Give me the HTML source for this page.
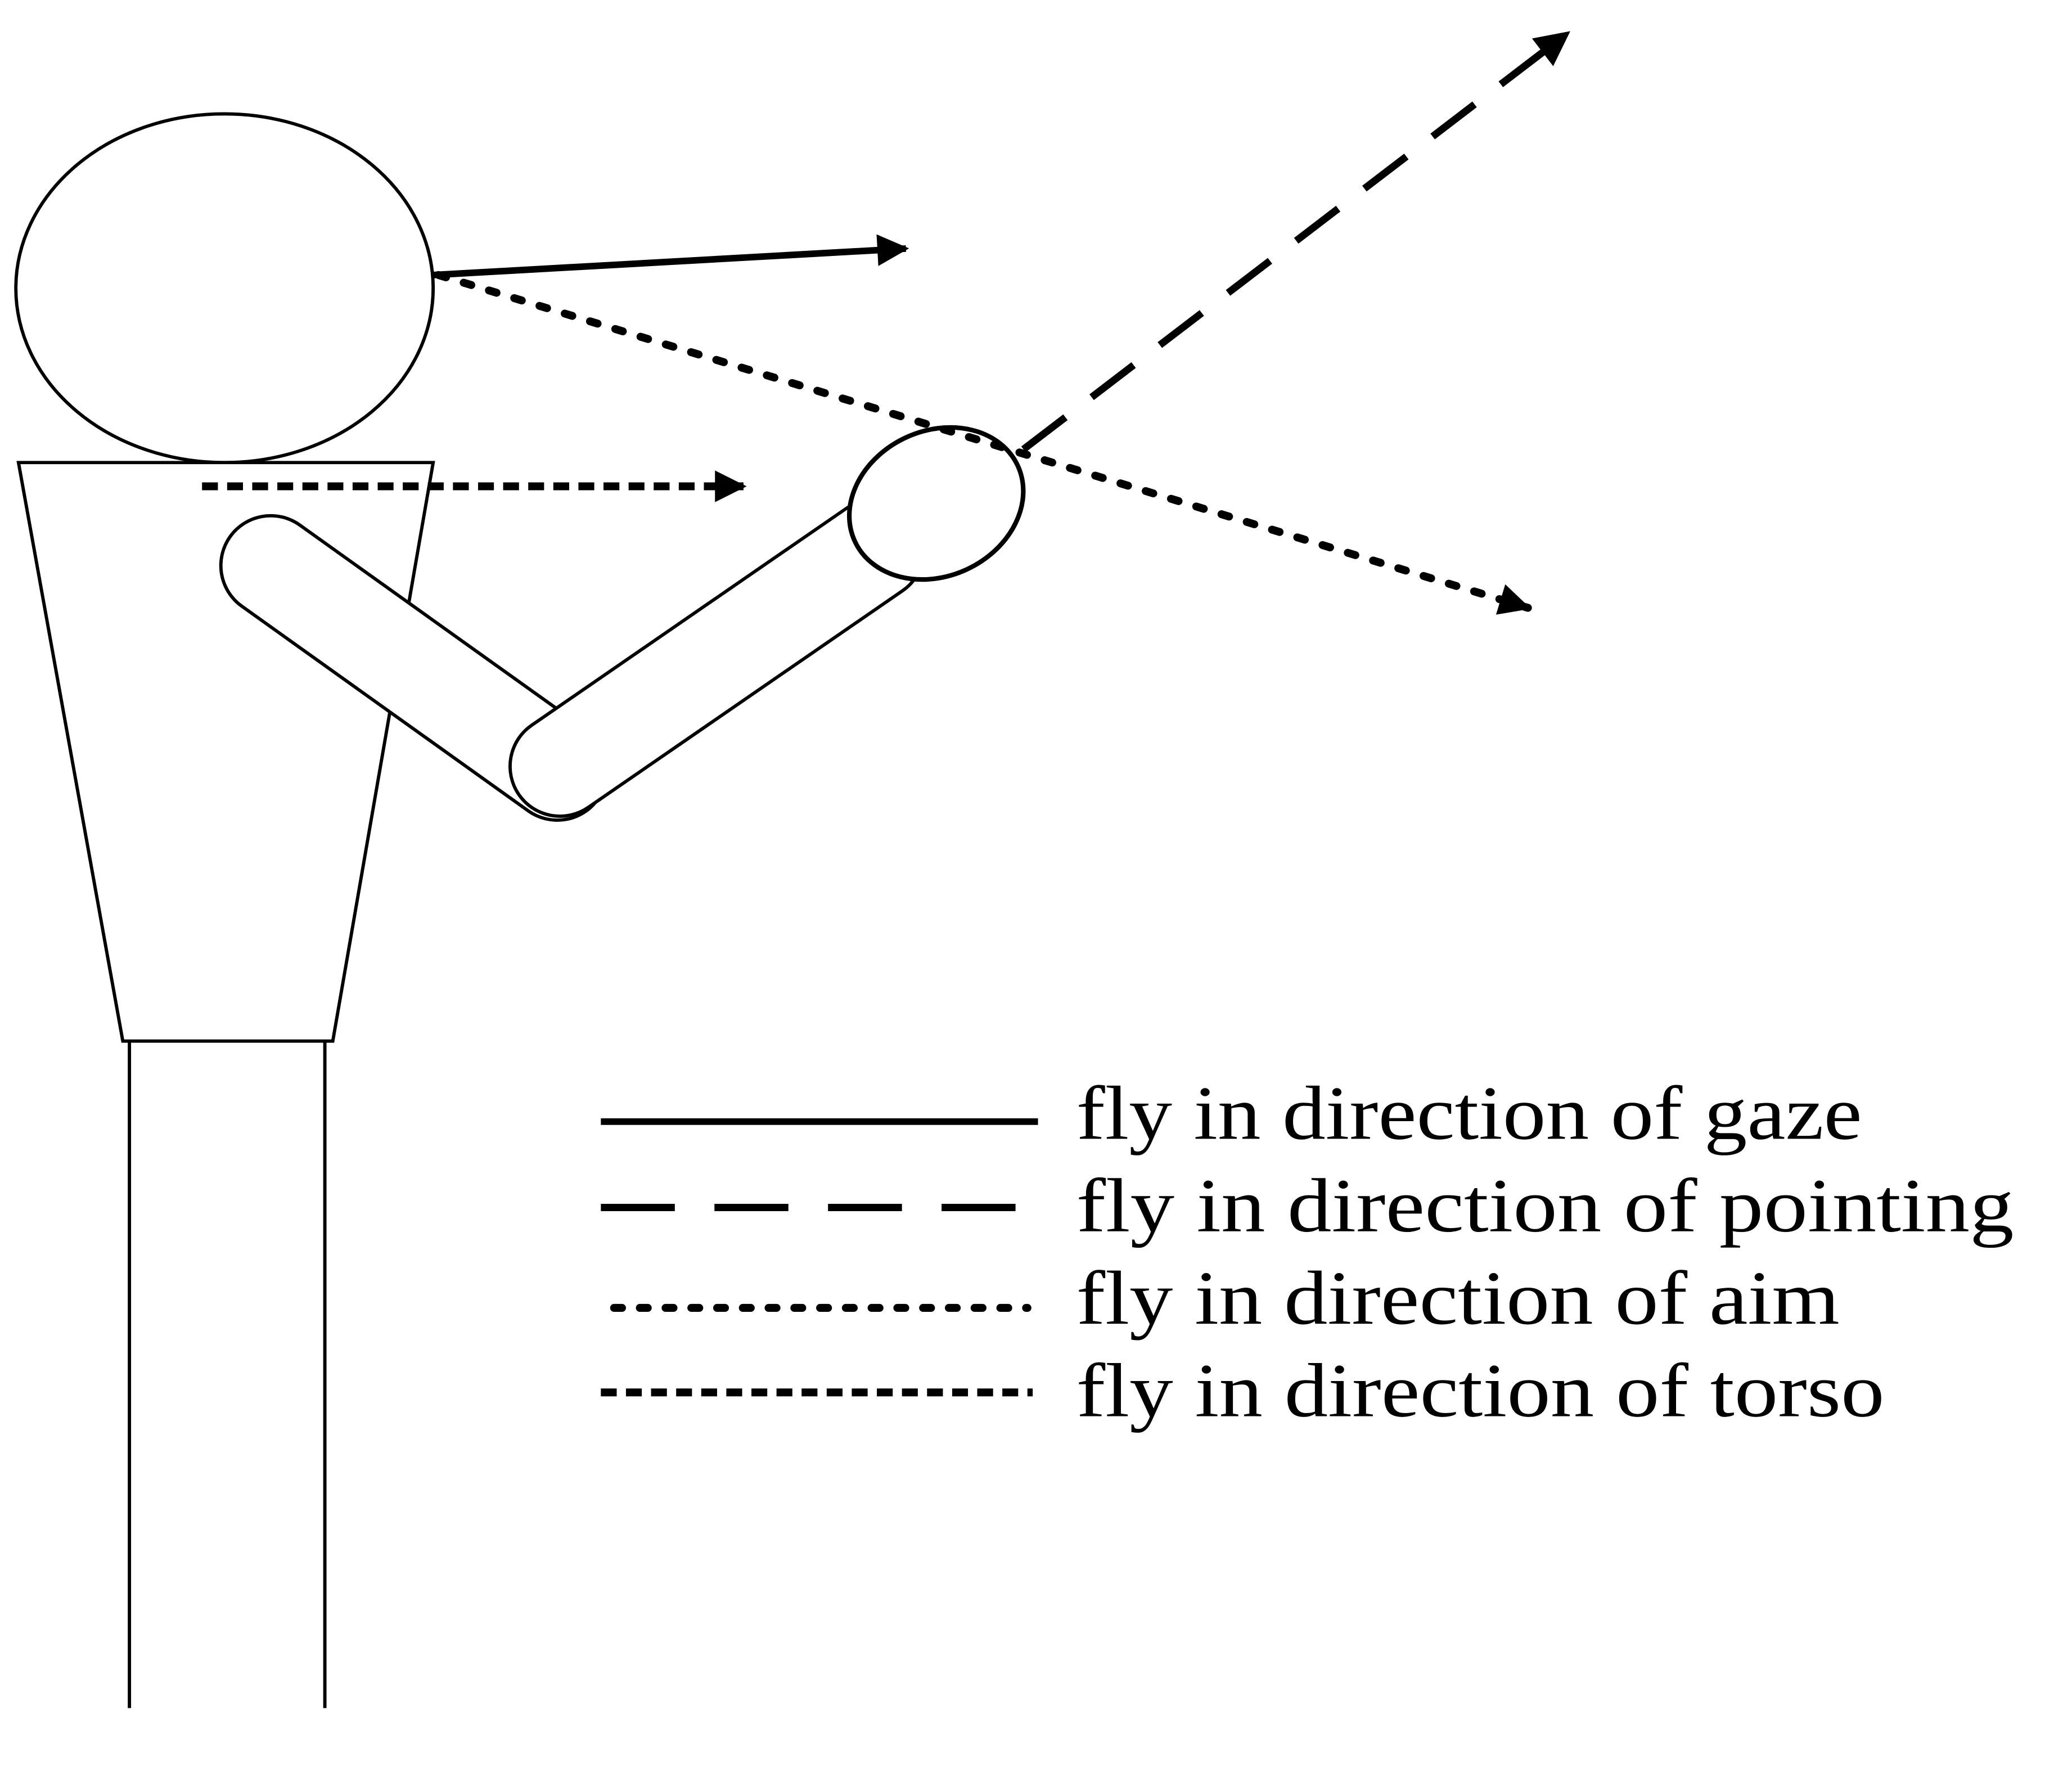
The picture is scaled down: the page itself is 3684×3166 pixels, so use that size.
<!DOCTYPE html>
<html><head><style>html,body{margin:0;padding:0;background:#fff}svg{display:block}</style></head>
<body>
<svg width="3684" height="3166" viewBox="0 0 1569 1348" xmlns="http://www.w3.org/2000/svg">
<defs>
<marker id="ah" viewBox="0 0 10 10" refX="9" refY="5" markerWidth="7" markerHeight="4.8" markerUnits="strokeWidth" orient="auto">
<path d="M0,0 L10,5 L0,10 z" fill="#000"/>
</marker>
<marker id="ah6" viewBox="0 0 10 10" refX="9" refY="5" markerWidth="6" markerHeight="4" markerUnits="strokeWidth" orient="auto">
<path d="M0,0 L10,5 L0,10 z" fill="#000"/>
</marker>
</defs>
<g fill="#fff" stroke="#000" stroke-width="2.5">
<ellipse cx="170" cy="218" rx="158" ry="132"/>
<polygon points="14,350 328,350 252,788 93,788"/>
<line x1="98" y1="788" x2="98" y2="1293"/>
<line x1="246" y1="788" x2="246" y2="1293"/>
</g>
<line x1="205" y1="428" x2="422" y2="583" stroke="#000" stroke-width="78" stroke-linecap="round"/>
<line x1="205" y1="428" x2="422" y2="583" stroke="#fff" stroke-width="73" stroke-linecap="round"/>
<line x1="424" y1="580" x2="662" y2="416" stroke="#000" stroke-width="78" stroke-linecap="round"/>
<line x1="424" y1="580" x2="662" y2="416" stroke="#fff" stroke-width="73" stroke-linecap="round"/>
<ellipse cx="709" cy="381" rx="68" ry="55" transform="rotate(-25 709 381)" fill="#fff" stroke="#000" stroke-width="3.5"/>
<line x1="328" y1="208" x2="686" y2="188" stroke="#000" stroke-width="5" marker-end="url(#ah)"/>
<line x1="332" y1="208" x2="1157" y2="460" stroke="#000" stroke-width="6" stroke-dasharray="6 14" stroke-linecap="round" marker-end="url(#ah6)"/>
<line x1="775" y1="340" x2="1187" y2="25" stroke="#000" stroke-width="5.5" stroke-dasharray="40 25" marker-end="url(#ah)"/>
<line x1="153" y1="368" x2="563" y2="368" stroke="#000" stroke-width="6" stroke-dasharray="12 7" marker-end="url(#ah6)"/>
<line x1="455" y1="849" x2="786" y2="849" stroke="#000" stroke-width="5"/>
<line x1="455" y1="914" x2="770" y2="914" stroke="#000" stroke-width="5.5" stroke-dasharray="56 30"/>
<line x1="465" y1="990" x2="778" y2="990" stroke="#000" stroke-width="6" stroke-dasharray="6 13.5" stroke-linecap="round"/>
<line x1="455" y1="1054" x2="782" y2="1054" stroke="#000" stroke-width="6" stroke-dasharray="12 7"/>
<g font-family="'Liberation Serif', serif" font-size="58" fill="#000">
<text x="815" y="862" textLength="595" lengthAdjust="spacingAndGlyphs">fly in direction of gaze</text>
<text x="815" y="932" textLength="710" lengthAdjust="spacingAndGlyphs">fly in direction of pointing</text>
<text x="815" y="1002" textLength="578" lengthAdjust="spacingAndGlyphs">fly in direction of aim</text>
<text x="815" y="1072" textLength="612" lengthAdjust="spacingAndGlyphs">fly in direction of torso</text>
</g>
</svg>
</body></html>
